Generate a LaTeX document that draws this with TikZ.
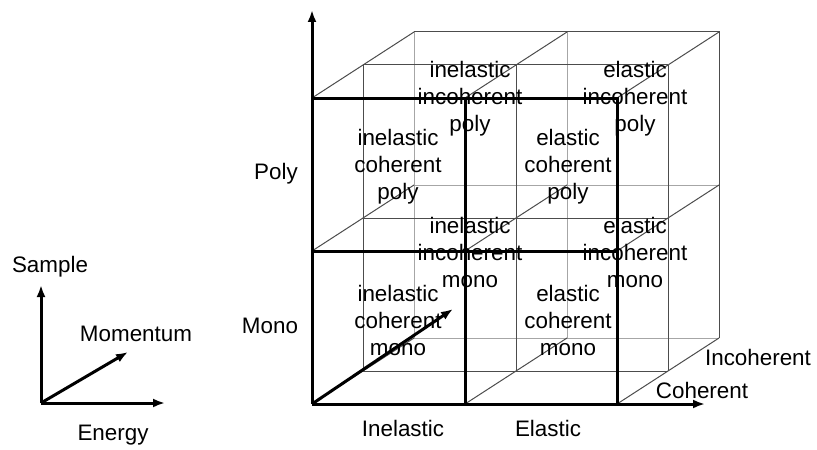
\documentclass[tikz,border=0pt]{standalone}
\usepackage{fontspec}
\setmainfont{Liberation Sans}
\usetikzlibrary{arrows.meta,positioning}

\begin{document}
\begin{tikzpicture}[x=0.5pt, y=-0.5pt,
  cell/.style={align=center, font=\fontsize{11.2}{13.5}\selectfont, inner sep=0pt},
  lbl/.style={font=\fontsize{11.2}{13.5}\selectfont, inner sep=0pt},
  front/.style={line width=1.5pt},
  mid/.style={line width=0.5pt, black!70},
  back/.style={line width=0.5pt, black!35},
  axis/.style={line width=1.5pt, -{Latex[length=6pt,width=4.5pt]}}]
\useasboundingbox (0,0) rectangle (817,449);
% back plane of the cube
\foreach \x in {414,567,719} \draw[back] (\x,32) -- (\x,338);
\foreach \y in {32,185,338} \draw[back] (414,\y) -- (719,\y);
\draw[mid] (414,32) -- (719,32) -- (719,338);
% middle plane
\foreach \x in {363,516,668} \draw[mid] (\x,65) -- (\x,371);
\foreach \y in {65,218,371} \draw[mid] (363,\y) -- (668,\y);
% depth edges
\foreach \x in {312,465,617} \foreach \y in {98,251,404} \draw[mid] (\x,\y) -- ++(102,-66);
% front face
\coordinate (o) at (312,404);
\coordinate (top) at (312,10);
\coordinate (right) at (705,404);
\coordinate (depth) at (453,309);
\draw[front] (312,98) -- (617,98) -- (617,404);
\draw[front] (312,251) -- (617,251);
\draw[front] (465,98) -- (465,404);
\draw[axis] (o) -- (top);
\draw[axis] (o) -- (right);
\draw[axis] (o) -- (depth);
% cell labels
\node[cell] (iip) at (470,99) {inelastic\\incoherent\\poly};
\node[cell] (eip) at (635,99) {elastic\\incoherent\\poly};
\node[cell] (icp) at (398,167) {inelastic\\coherent\\poly};
\node[cell] (ecp) at (568,167) {elastic\\coherent\\poly};
\node[cell] (iim) at (470,252) {inelastic\\incoherent\\mono};
\node[cell] (eim) at (635,252) {elastic\\incoherent\\mono};
\node[cell] (icm) at (398,320) {inelastic\\coherent\\mono};
\node[cell] (ecm) at (568,320) {elastic\\coherent\\mono};
% axis labels
\node[lbl] (poly) at (276,174) {Poly};
\node[lbl] (mono) at (270,326) {Mono};
\node[lbl] (inel) at (403,428) {Inelastic};
\node[lbl] (el) at (548,428) {Elastic};
\node[lbl] (coh) at (702,390) {Coherent};
\node[lbl] (incoh) at (758,357) {Incoherent};
% legend axes
\coordinate (lo) at (41,403);
\coordinate (ls) at (41,285);
\coordinate (le) at (165,403);
\coordinate (lm) at (128,352);
\draw[axis] (lo) -- (ls);
\draw[axis] (lo) -- (le);
\draw[axis] (lo) -- (lm);
\node[lbl] (sample) at (50,267) {Sample};
\node[lbl] (mom) at (136,334) {Momentum};
\node[lbl] (energy) at (113,435) {Energy};
\end{tikzpicture}
\end{document}
